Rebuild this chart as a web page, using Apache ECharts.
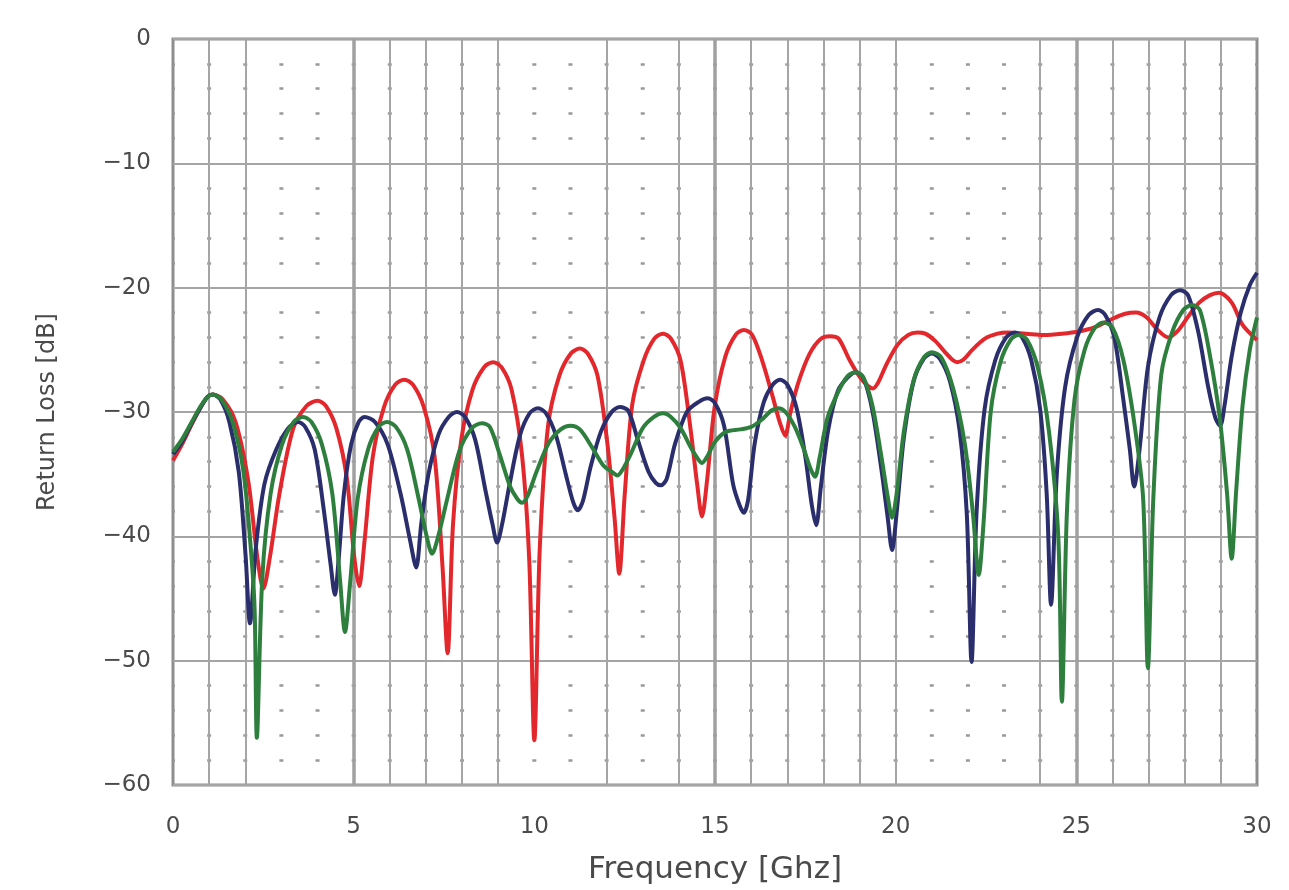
<!DOCTYPE html>
<html>
<head>
<meta charset="utf-8">
<script src="https://cdn.jsdelivr.net/npm/echarts@6/dist/echarts.min.js"></script>
<style>
html,body{margin:0;padding:0;background:#fff;}
#chart{width:1289px;height:890px;}
</style>
</head>
<body>
<div id="chart"></div>
<script>
// ---- data ----
const redFreq = [0,0.25,0.5,0.75,0.95,1.1,1.38,1.73,2.08,2.33,2.5,2.68,2.95,3.33,3.7,4.0,4.23,4.52,4.81,5.01,5.15,5.3,5.53,5.84,6.15,6.4,6.64,6.94,7.24,7.46,7.6,7.75,7.98,8.29,8.61,8.86,9.09,9.37,9.66,9.86,10.0,10.15,10.38,10.69,11.01,11.26,11.48,11.75,12.02,12.22,12.35,12.5,12.71,13.02,13.32,13.56,13.78,14.05,14.32,14.51,14.64,14.78,14.99,15.28,15.57,15.8,16.03,16.31,16.6,16.8,16.94,17.09,17.31,17.62,17.93,18.18,18.42,18.72,19.01,19.23,19.37,19.52,19.74,20.05,20.35,20.6,20.82,21.1,21.37,21.57,21.7,21.87,22.12,22.47,22.82,23.1,23.6,24.1,24.6,25.1,25.5,26.0,26.35,26.65,26.95,27.25,27.54,27.8,28.1,28.4,28.7,28.95,29.3,29.6,30.0];
const redLoss = [-33.9,-32.6,-31.1,-29.7,-28.8,-28.6,-29.0,-30.8,-35.5,-41.6,-44.2,-41.7,-36.5,-31.3,-29.5,-29.1,-29.5,-31.3,-35.3,-41.5,-44.0,-40.4,-33.6,-29.6,-27.8,-27.4,-27.8,-29.6,-33.6,-42.5,-49.4,-39.0,-32.2,-28.2,-26.4,-26.0,-26.4,-28.2,-33.5,-42.0,-56.4,-41.0,-31.1,-27.1,-25.3,-24.9,-25.3,-27.1,-32.5,-38.5,-43.0,-36.7,-29.4,-25.9,-24.1,-23.7,-24.1,-25.9,-31.3,-35.9,-38.4,-35.5,-29.6,-25.6,-23.8,-23.4,-23.8,-25.9,-28.8,-30.9,-31.9,-30.0,-27.6,-25.3,-24.1,-23.9,-24.1,-25.8,-27.2,-27.9,-28.1,-27.6,-26.2,-24.6,-23.8,-23.6,-23.7,-24.3,-25.2,-25.8,-26.0,-25.8,-25.0,-24.1,-23.7,-23.6,-23.7,-23.8,-23.7,-23.5,-23.2,-22.5,-22.1,-22.0,-22.4,-23.4,-24.0,-23.5,-22.3,-21.2,-20.6,-20.4,-21.2,-23.0,-24.2];

const navyFreq = [0,0.25,0.5,0.75,0.95,1.1,1.31,1.56,1.82,2.01,2.13,2.29,2.53,2.86,3.19,3.46,3.66,3.92,4.17,4.36,4.48,4.58,4.73,4.93,5.14,5.3,5.59,5.94,6.3,6.56,6.73,6.87,7.07,7.35,7.63,7.86,8.08,8.36,8.64,8.84,8.97,9.11,9.31,9.6,9.87,10.1,10.32,10.6,10.87,11.07,11.2,11.34,11.55,11.84,12.14,12.37,12.6,12.87,13.16,13.36,13.5,13.66,13.89,14.22,14.54,14.8,15.0,15.25,15.5,15.68,15.8,15.92,16.1,16.35,16.6,16.8,17.0,17.25,17.5,17.68,17.8,17.93,18.13,18.4,18.68,18.9,19.1,19.35,19.6,19.78,19.9,20.03,20.23,20.5,20.78,21.0,21.22,21.5,21.77,21.97,22.1,22.24,22.46,22.76,23.06,23.3,23.5,23.75,24.0,24.18,24.3,24.46,24.69,25.02,25.34,25.6,25.8,26.05,26.3,26.48,26.6,26.75,26.98,27.3,27.62,27.87,28.09,28.37,28.65,28.85,28.98,29.1,29.3,29.55,29.8,30.0];
const navyLoss = [-33.4,-32.4,-31.0,-29.7,-28.8,-28.6,-29.0,-30.8,-34.8,-41.6,-47.0,-41.0,-35.8,-33.0,-31.3,-30.8,-31.2,-33.0,-37.8,-42.2,-44.7,-42.0,-36.6,-32.6,-30.8,-30.4,-30.8,-32.6,-36.6,-40.3,-42.5,-39.0,-35.0,-31.8,-30.4,-30.0,-30.4,-32.2,-36.2,-39.0,-40.5,-39.0,-35.9,-31.9,-30.1,-29.7,-30.1,-31.9,-35.0,-37.2,-37.9,-37.2,-34.5,-31.6,-30.0,-29.6,-29.9,-32.3,-34.8,-35.7,-35.9,-35.4,-32.6,-30.0,-29.2,-28.9,-29.3,-31.1,-35.8,-37.5,-38.1,-37.0,-32.5,-29.2,-27.8,-27.4,-27.8,-29.6,-33.6,-37.5,-39.1,-36.0,-31.5,-28.3,-27.2,-26.8,-27.2,-29.8,-34.5,-38.5,-41.1,-38.0,-32.0,-27.5,-25.7,-25.3,-25.7,-27.5,-31.5,-38.3,-50.1,-38.0,-29.8,-25.8,-24.0,-23.6,-24.0,-25.8,-29.8,-36.6,-45.5,-35.0,-28.0,-24.0,-22.2,-21.8,-22.2,-24.0,-29.0,-33.0,-36.0,-33.0,-26.4,-22.4,-20.6,-20.2,-20.6,-23.5,-28.0,-30.5,-31.1,-29.5,-25.5,-22.0,-19.8,-18.8];

const greenFreq = [0,0.25,0.5,0.75,0.95,1.1,1.34,1.65,1.95,2.17,2.26,2.32,2.47,2.7,3.02,3.34,3.6,3.83,4.12,4.41,4.62,4.76,4.9,5.11,5.4,5.69,5.92,6.17,6.48,6.8,7.02,7.17,7.34,7.58,7.93,8.27,8.55,8.77,9.05,9.33,9.53,9.66,9.82,10.06,10.4,10.73,11.0,11.26,11.59,11.91,12.14,12.3,12.45,12.68,13.0,13.31,13.56,13.78,14.05,14.32,14.51,14.64,14.8,15.0,15.3,15.7,16.0,16.3,16.55,16.75,16.95,17.21,17.46,17.65,17.77,17.9,18.11,18.39,18.67,18.9,19.1,19.35,19.6,19.78,19.9,20.03,20.23,20.5,20.78,21.0,21.26,21.58,21.91,22.14,22.3,22.43,22.63,22.9,23.18,23.4,23.64,23.94,24.24,24.5,24.6,24.74,24.95,25.23,25.52,25.75,26.0,26.3,26.61,26.85,26.98,27.13,27.35,27.65,27.96,28.2,28.42,28.7,28.97,29.17,29.3,29.42,29.6,29.8,30.0];
const greenLoss = [-33.2,-32.2,-30.9,-29.6,-28.8,-28.6,-29.0,-30.8,-34.8,-41.6,-46.0,-56.2,-43.4,-36.6,-32.6,-30.8,-30.4,-30.8,-32.6,-36.6,-43.4,-47.7,-43.8,-37.0,-33.0,-31.2,-30.8,-31.2,-33.0,-37.0,-40.0,-41.4,-40.0,-37.1,-33.1,-31.3,-30.9,-31.2,-33.5,-36.0,-37.0,-37.3,-36.7,-34.8,-32.5,-31.4,-31.1,-31.4,-32.8,-34.3,-34.8,-35.1,-34.6,-33.3,-31.3,-30.4,-30.1,-30.4,-31.3,-32.8,-33.7,-34.1,-33.5,-32.4,-31.6,-31.4,-31.2,-30.6,-29.9,-29.7,-30.0,-31.2,-33.0,-34.6,-35.2,-33.6,-30.5,-28.5,-27.1,-26.8,-27.2,-29.4,-33.5,-36.8,-38.5,-36.5,-31.5,-27.4,-25.6,-25.2,-25.6,-28.0,-32.5,-38.2,-43.1,-39.0,-30.0,-26.0,-24.2,-23.8,-24.2,-26.5,-31.5,-40.0,-53.3,-38.0,-29.0,-25.0,-23.2,-22.8,-23.2,-25.8,-31.0,-37.0,-50.6,-37.0,-27.0,-23.6,-21.8,-21.4,-21.8,-25.5,-30.5,-36.5,-41.8,-36.5,-29.5,-25.0,-22.4];

// frequencies (GHz) where the reference shows a solid vertical grid line
const solidGridFreq = [1,2,6,7,8,9,12,14,16,17,18,19,20,24,26,27,28,29];
const majorGridFreq = [5,15,25];

const xAxisName = 'Frequency [Ghz]';
const yAxisName = 'Return Loss [dB]';

function zip(f, v){ return f.map((x,i)=>[x, v[i]]); }

const chart = echarts.init(document.getElementById('chart'), null, {renderer:'canvas'});
const gridGray = '#a5a5a5';
const textColor = '#4a4a4a';
const font = 'DejaVu Sans';

const option = {
  animation: false,
  backgroundColor: '#ffffff',
  grid: {left:173, right:32, top:39, bottom:105, show:true, borderColor:'#8e8e8e', borderWidth:3, backgroundColor:'transparent'},
  xAxis: {
    type:'value', min:0, max:30, interval:5,
    name: xAxisName, nameLocation:'middle', nameGap:69,
    nameTextStyle:{fontFamily:font, fontSize:31, color:textColor},
    axisLine:{show:false}, axisTick:{show:false},
    axisLabel:{margin:31, fontFamily:font, fontSize:23, color:textColor},
    splitLine:{show:false}
  },
  yAxis: {
    type:'value', min:-60, max:0, interval:10,
    name: yAxisName, nameLocation:'middle', nameGap:113,
    nameTextStyle:{fontFamily:font, fontSize:24, color:textColor},
    axisLine:{show:false}, axisTick:{show:false},
    axisLabel:{margin:22, fontFamily:font, fontSize:23, color:textColor,
      formatter: v => String(v).replace('-', '\u2212')},
    splitLine:{show:true, lineStyle:{color:gridGray, width:2}},
    minorTick:{show:false, splitNumber:5},
    minorSplitLine:{show:true, lineStyle:{color:'#999999', width:2.5, type:[4, 32.133], dashOffset:2}}
  },
  series: [
    {
      type:'line', name:'grid', data:[], silent:true, z:1,
      markLine:{
        silent:true, symbol:['none','none'], z:1, animation:false,
        label:{show:false}, emphasis:{disabled:true},
        data: solidGridFreq.map(f=>({xAxis:f, lineStyle:{color:gridGray, width:2, type:'solid'}}))
          .concat(majorGridFreq.map(f=>({xAxis:f, lineStyle:{color:'#a0a0a0', width:3.5, type:'solid'}})))
      }
    },
    {type:'line', name:'red', data:zip(redFreq, redLoss), showSymbol:false, smooth:0.3, z:3,
      lineStyle:{color:'#e2282c', width:4}},
    {type:'line', name:'navy', data:zip(navyFreq, navyLoss), showSymbol:false, smooth:0.3, z:4,
      lineStyle:{color:'#2a2e6c', width:4}},
    {type:'line', name:'green', data:zip(greenFreq, greenLoss), showSymbol:false, smooth:0.3, z:5,
      lineStyle:{color:'#2e7f3e', width:4}}
  ]
};
chart.setOption(option);
</script>
</body>
</html>
